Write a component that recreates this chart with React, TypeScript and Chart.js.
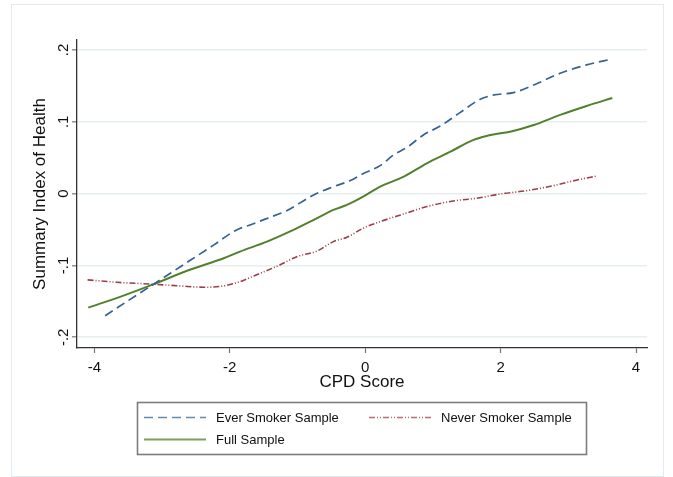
import React, { useEffect, useRef } from 'react';
import { Chart, registerables } from 'chart.js';

Chart.register(...registerables);

// ---- data ----
const everX = [-3.84, -3.5, -3.15, -2.73, -2.24, -1.9, -1.7, -1.45, -1.16, -0.76, -0.47, -0.2, -0.07, 0.22, 0.42, 0.62, 0.86, 1.11, 1.4, 1.7, 1.9, 2.19, 2.49, 2.88, 3.27, 3.65];
const everY = [-0.17, -0.149, -0.1276, -0.1018, -0.0717, -0.0505, -0.0436, -0.0345, -0.0237, -0.0018, 0.0097, 0.019, 0.026, 0.039, 0.0539, 0.0646, 0.0817, 0.0942, 0.1128, 0.1314, 0.1374, 0.1406, 0.1513, 0.1676, 0.1792, 0.1875];

const neverX = [-4.1, -3.67, -3.15, -2.73, -2.39, -2.09, -1.85, -1.55, -1.26, -1.01, -0.71, -0.47, -0.27, -0.03, 0.22, 0.57, 0.91, 1.3, 1.65, 2.0, 2.39, 2.78, 3.13, 3.43];
const neverY = [-0.12, -0.1234, -0.126, -0.1285, -0.1303, -0.1285, -0.1225, -0.1108, -0.0993, -0.0877, -0.0798, -0.0668, -0.0607, -0.0482, -0.039, -0.0283, -0.018, -0.0102, -0.0064, -0.0004, 0.0042, 0.0111, 0.019, 0.0246];

const fullX = [-4.09, -3.6, -3.15, -2.59, -2.09, -1.85, -1.45, -1.06, -0.76, -0.47, -0.27, -0.03, 0.22, 0.57, 0.91, 1.26, 1.6, 1.85, 2.14, 2.49, 2.88, 3.27, 3.65];
const fullY = [-0.1587, -0.143, -0.127, -0.106, -0.09, -0.0807, -0.0668, -0.0505, -0.0366, -0.0227, -0.0157, -0.0042, 0.0097, 0.0237, 0.0423, 0.0585, 0.0748, 0.0817, 0.0863, 0.0956, 0.1096, 0.1221, 0.1332];

const seriesNames = ['Ever Smoker Sample', 'Never Smoker Sample', 'Full Sample'];
const xTicks = [-4, -2, 0, 2, 4];
const xTickLabels = ['-4', '-2', '0', '2', '4'];
const yTicks = [-0.2, -0.1, 0, 0.1, 0.2];
const yTickLabels = ['-.2', '-.1', '0', '.1', '.2'];
const xTitle = 'CPD Score';
const yTitle = 'Summary Index of Health';

const FONT = '"Liberation Sans", Arial, Helvetica, sans-serif';
const C_EVER = '#36628f';
const C_NEVER = '#9a3f48';
const C_FULL = '#52802e';
const DASH_EVER = [9, 5];
const DASH_NEVER = [6, 2, 1, 2, 1, 2];

const pts = (xs: number[], ys: number[]) => xs.map((x, i) => ({ x, y: ys[i] }));

const framePlugin = {
  id: 'stataFrame',
  beforeDraw(chart: any) {
    const { ctx, width, height } = chart;
    ctx.save();
    ctx.fillStyle = '#ffffff';
    ctx.fillRect(0, 0, width, height);
    ctx.strokeStyle = '#e3ebee';
    ctx.lineWidth = 1;
    ctx.strokeRect(11.5, 4.5, 652, 472);
    ctx.restore();
  },
  afterDraw(chart: any) {
    const { ctx } = chart;
    ctx.save();
    // legend box
    ctx.strokeStyle = '#7d7d7d';
    ctx.lineWidth = 1.6;
    ctx.strokeRect(137.5, 402.5, 449, 52);
    const items = [
      { name: seriesNames[0], color: C_EVER, dash: DASH_EVER, w: 1.6, x: 144, y: 417.5 },
      { name: seriesNames[1], color: C_NEVER, dash: DASH_NEVER, w: 1.6, x: 369, y: 417.5 },
      { name: seriesNames[2], color: C_FULL, dash: [], w: 1.8, x: 144, y: 439.5 },
    ];
    ctx.font = `13px ${FONT}`;
    ctx.textBaseline = 'middle';
    ctx.textAlign = 'left';
    for (const it of items) {
      ctx.save();
      ctx.globalAlpha = 0.75;
      ctx.strokeStyle = it.color;
      ctx.lineWidth = it.w;
      ctx.setLineDash(it.dash);
      ctx.beginPath();
      ctx.moveTo(it.x, it.y);
      ctx.lineTo(it.x + 62, it.y);
      ctx.stroke();
      ctx.restore();
      ctx.fillStyle = '#111';
      ctx.fillText(it.name, it.x + 72, it.y + 0.5);
    }
    ctx.restore();
  },
};

export default function App() {
  const ref = useRef<HTMLCanvasElement | null>(null);
  useEffect(() => {
    if (!ref.current) return;
    const chart = new Chart(ref.current, {
      type: 'line',
      data: {
        datasets: [
          {
            label: seriesNames[0],
            data: pts(everX, everY),
            borderColor: C_EVER,
            borderWidth: 1.7,
            borderDash: DASH_EVER,
            pointRadius: 0,
            cubicInterpolationMode: 'monotone',
            fill: false,
          },
          {
            label: seriesNames[1],
            data: pts(neverX, neverY),
            borderColor: C_NEVER,
            borderWidth: 1.6,
            borderDash: DASH_NEVER,
            pointRadius: 0,
            cubicInterpolationMode: 'monotone',
            fill: false,
          },
          {
            label: seriesNames[2],
            data: pts(fullX, fullY),
            borderColor: C_FULL,
            borderWidth: 2,
            pointRadius: 0,
            cubicInterpolationMode: 'monotone',
            fill: false,
          },
        ],
      },
      options: {
        animation: false,
        responsive: false,
        devicePixelRatio: 1,
        layout: { padding: { left: 0, right: 26, top: 40, bottom: 0 } },
        plugins: { legend: { display: false }, tooltip: { enabled: false } },
        scales: {
          x: {
            type: 'linear',
            min: -4.256,
            max: 4.162,
            afterBuildTicks: (s: any) => {
              s.ticks = xTicks.map((v) => ({ value: v }));
            },
            afterFit: (s: any) => {
              s.height = 129;
            },
            grid: { drawOnChartArea: false, tickLength: 5, tickColor: '#777', tickWidth: 1.2 },
            border: { color: '#333', width: 1.3 },
            ticks: {
              autoSkip: false,
              maxRotation: 0,
              padding: 6,
              color: '#111',
              font: { family: FONT, size: 15 },
              callback: (_v: any, i: number) => xTickLabels[i],
            },
            title: {
              display: true,
              text: xTitle,
              color: '#111',
              font: { family: FONT, size: 17 },
              padding: { top: 0, bottom: 84 },
            },
          },
          y: {
            type: 'linear',
            min: -0.2149,
            max: 0.2139,
            afterBuildTicks: (s: any) => {
              s.ticks = yTicks.map((v) => ({ value: v }));
            },
            afterFit: (s: any) => {
              s.width = 77;
            },
            grid: { color: '#e6eef0', lineWidth: 1.6, tickLength: 5, tickColor: '#777', tickWidth: 1.2 },
            border: { color: '#333', width: 1.3 },
            ticks: {
              autoSkip: false,
              crossAlign: 'center',
              minRotation: 90,
              maxRotation: 90,
              padding: -1,
              color: '#111',
              font: { family: FONT, size: 15 },
              callback: (_v: any, i: number) => yTickLabels[i],
            },
            title: {
              display: true,
              text: yTitle,
              color: '#111',
              font: { family: FONT, size: 17 },
              padding: { top: 30, bottom: 0 },
            },
          },
        },
      } as any,
      plugins: [framePlugin],
    });
    return () => chart.destroy();
  }, []);
  return (
    <div style={{ position: 'absolute', left: 0, top: 0, width: 673, height: 477, background: '#fff' }}>
      <canvas ref={ref} width={673} height={477} style={{ display: 'block', width: 673, height: 477 }} />
    </div>
  );
}
